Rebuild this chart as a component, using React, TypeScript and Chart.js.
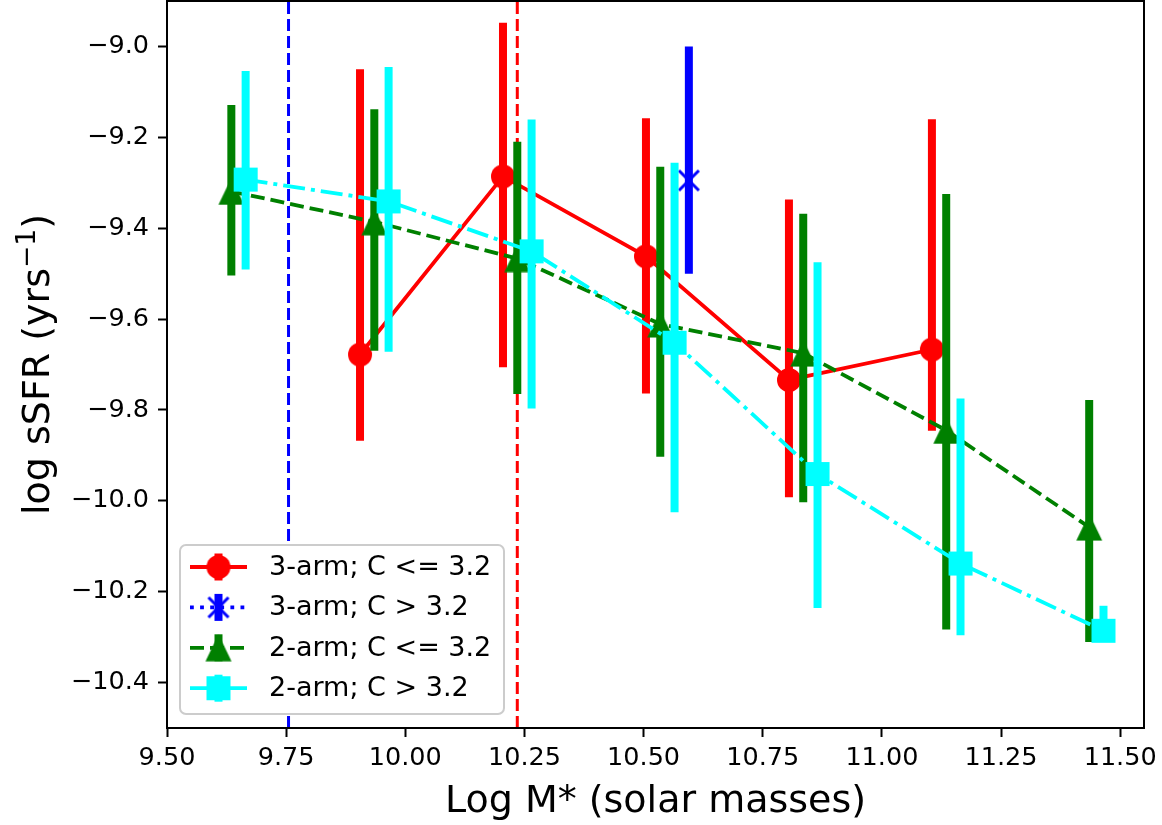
import React, { useEffect, useRef } from 'react';
import { Chart, registerables } from 'chart.js';

Chart.register(...registerables);

// ---------- data ----------
const xTicks = [9.5, 9.75, 10.0, 10.25, 10.5, 10.75, 11.0, 11.25, 11.5];
const yTicks = [-10.4, -10.2, -10.0, -9.8, -9.6, -9.4, -9.2, -9.0];
const xLimits = [9.5, 11.55];
const yLimits = [-10.5, -8.9];

const seriesLabels = ['3-arm; C <= 3.2', '3-arm; C > 3.2', '2-arm; C <= 3.2', '2-arm; C > 3.2'];
const xTitle = 'Log M* (solar masses)';
const yTitleMain = 'log sSFR (yrs';
const yTitleSup = '\u22121';
const yTitleEnd = ')';

const threeArmLowX = [9.905, 10.205, 10.505, 10.805, 11.105];
const threeArmLowY = [-9.678, -9.286, -9.462, -9.734, -9.667];
const threeArmLowLo = [-9.868, -9.706, -9.764, -9.992, -9.846];
const threeArmLowHi = [-9.05, -8.948, -9.158, -9.337, -9.16];

const threeArmHighX = [10.595];
const threeArmHighY = [-9.295];
const threeArmHighLo = [-9.5];
const threeArmHighHi = [-9.0];

const twoArmLowX = [9.635, 9.935, 10.235, 10.535, 10.835, 11.135, 11.435];
const twoArmLowY = [-9.319, -9.386, -9.467, -9.611, -9.675, -9.845, -10.058];
const twoArmLowLo = [-9.504, -9.67, -9.765, -9.903, -10.003, -10.283, -10.311];
const twoArmLowHi = [-9.129, -9.138, -9.21, -9.265, -9.368, -9.325, -9.778];

const twoArmHighX = [9.665, 9.965, 10.265, 10.565, 10.865, 11.165, 11.465];
const twoArmHighY = [-9.293, -9.341, -9.451, -9.652, -9.941, -10.138, -10.286];
const twoArmHighLo = [-9.491, -9.672, -9.797, -10.025, -10.236, -10.296, -10.3];
const twoArmHighHi = [-9.054, -9.045, -9.161, -9.256, -9.475, -9.775, -10.231];

const massCutLines = [9.755, 10.235];
const massCutColors = ['#0000ff', '#ff0000'];

const FONT = '"DejaVu Sans", "Liberation Sans", sans-serif';

function makeMarker(kind: string, color: string): HTMLCanvasElement {
  const c = document.createElement('canvas');
  const size = kind === 'triangle' ? 28 : 26;
  c.width = size;
  c.height = size;
  const g = c.getContext('2d')!;
  g.fillStyle = color;
  g.strokeStyle = color;
  if (kind === 'circle') {
    g.beginPath();
    g.arc(13, 13, 12, 0, Math.PI * 2);
    g.fill();
  } else if (kind === 'square') {
    g.fillRect(1, 1, 24, 24);
  } else if (kind === 'triangle') {
    g.beginPath();
    g.moveTo(14, 0.5);
    g.lineTo(1, 27.5);
    g.lineTo(27, 27.5);
    g.closePath();
    g.fill();
  } else if (kind === 'x') {
    g.lineWidth = 3;
    g.beginPath();
    g.moveTo(3, 3);
    g.lineTo(23, 23);
    g.moveTo(23, 3);
    g.lineTo(3, 23);
    g.stroke();
  }
  return c;
}

const zip = (xs: number[], ys: number[]) => xs.map((x, i) => ({ x, y: ys[i] }));

export default function App() {
  const canvasRef = useRef<HTMLCanvasElement | null>(null);

  useEffect(() => {
    if (!canvasRef.current) return;
    const markers = {
      red: makeMarker('circle', '#ff0000'),
      blue: makeMarker('x', '#0000ff'),
      green: makeMarker('triangle', '#008000'),
      cyan: makeMarker('square', '#00ffff'),
    };

    const series = [
      { label: seriesLabels[0], x: threeArmLowX, y: threeArmLowY, lo: threeArmLowLo, hi: threeArmLowHi, color: '#ff0000', dash: [] as number[], marker: markers.red, order: 4 },
      { label: seriesLabels[1], x: threeArmHighX, y: threeArmHighY, lo: threeArmHighLo, hi: threeArmHighHi, color: '#0000ff', dash: [3.8, 6.3], marker: markers.blue, order: 3 },
      { label: seriesLabels[2], x: twoArmLowX, y: twoArmLowY, lo: twoArmLowLo, hi: twoArmLowHi, color: '#008000', dash: [14, 6], marker: markers.green, order: 2 },
      { label: seriesLabels[3], x: twoArmHighX, y: twoArmHighY, lo: twoArmHighLo, hi: twoArmHighHi, color: '#00ffff', dash: [22, 6, 4, 6], marker: markers.cyan, order: 1 },
    ];

    const datasets: any[] = [];
    massCutLines.forEach((v, i) => {
      datasets.push({
        type: 'line',
        data: [{ x: v, y: yLimits[0] }, { x: v, y: yLimits[1] }],
        borderColor: massCutColors[i],
        borderWidth: 3,
        borderDash: [12, 5],
        pointRadius: 0,
        order: 10,
      });
    });
    series.forEach((s) => {
      datasets.push({
        type: 'line',
        label: s.label,
        data: zip(s.x, s.y),
        borderColor: s.color,
        backgroundColor: s.color,
        borderWidth: 3.8,
        borderDash: s.dash,
        pointStyle: s.marker,
        pointRadius: 13,
        pointHoverRadius: 13,
        showLine: s.x.length > 1,
        order: s.order,
        errLo: s.lo,
        errHi: s.hi,
        errColor: s.color,
      });
    });

    const errorBarPlugin = {
      id: 'errorBars',
      beforeDatasetDraw(chart: any, args: any) {
        const ds = chart.data.datasets[args.index];
        if (!ds.errLo) return;
        const { ctx, chartArea } = chart;
        const xs = chart.scales.x;
        const ys = chart.scales.y;
        ctx.save();
        ctx.beginPath();
        ctx.rect(chartArea.left, chartArea.top, chartArea.right - chartArea.left, chartArea.bottom - chartArea.top);
        ctx.clip();
        ctx.strokeStyle = ds.errColor;
        ctx.lineWidth = 8;
        ctx.lineCap = 'butt';
        ds.data.forEach((p: any, i: number) => {
          const px = xs.getPixelForValue(p.x);
          ctx.beginPath();
          ctx.moveTo(px, ys.getPixelForValue(ds.errLo[i]));
          ctx.lineTo(px, ys.getPixelForValue(ds.errHi[i]));
          ctx.stroke();
        });
        ctx.restore();
      },
    };

    const framePlugin = {
      id: 'frameAndLegend',
      afterDraw(chart: any) {
        const { ctx, chartArea } = chart;
        ctx.save();
        // y-axis title with superscript
        const mainFont = `38px ${FONT}`;
        const supFont = `26.6px ${FONT}`;
        ctx.font = mainFont;
        const w1 = ctx.measureText(yTitleMain).width;
        const w3 = ctx.measureText(yTitleEnd).width;
        ctx.font = supFont;
        const w2 = ctx.measureText(yTitleSup).width;
        const total = w1 + w2 + w3;
        const cyMid = (chartArea.top + chartArea.bottom) / 2;
        ctx.translate(49, cyMid);
        ctx.rotate(-Math.PI / 2);
        ctx.fillStyle = '#000';
        ctx.textBaseline = 'alphabetic';
        ctx.textAlign = 'left';
        let px = -total / 2;
        ctx.font = mainFont;
        ctx.fillText(yTitleMain, px, 0);
        px += w1;
        ctx.font = supFont;
        ctx.fillText(yTitleSup, px, -14);
        px += w2;
        ctx.font = mainFont;
        ctx.fillText(yTitleEnd, px, 0);
        ctx.restore();
      },
      afterDatasetsDraw(chart: any) {
        const { ctx, chartArea } = chart;
        ctx.save();
        ctx.strokeStyle = '#000';
        ctx.lineWidth = 2;
        ctx.strokeRect(chartArea.left, chartArea.top, chartArea.right - chartArea.left, chartArea.bottom - chartArea.top);

        // legend
        const bx = chartArea.left + 13;
        const bw = 324;
        const bh = 169;
        const by = chartArea.bottom - 14 - bh;
        const r = 6;
        ctx.beginPath();
        ctx.moveTo(bx + r, by);
        ctx.lineTo(bx + bw - r, by);
        ctx.arcTo(bx + bw, by, bx + bw, by + r, r);
        ctx.lineTo(bx + bw, by + bh - r);
        ctx.arcTo(bx + bw, by + bh, bx + bw - r, by + bh, r);
        ctx.lineTo(bx + r, by + bh);
        ctx.arcTo(bx, by + bh, bx, by + bh - r, r);
        ctx.lineTo(bx, by + r);
        ctx.arcTo(bx, by, bx + r, by, r);
        ctx.closePath();
        ctx.fillStyle = '#ffffff';
        ctx.fill();
        ctx.strokeStyle = '#cccccc';
        ctx.lineWidth = 2;
        ctx.stroke();

        series.forEach((s, i) => {
          const cy = by + 22 + i * 40.4;
          const x0 = bx + 10;
          const x1 = bx + 67;
          const mx = bx + 38.5;
          ctx.save();
          ctx.strokeStyle = s.color;
          ctx.lineWidth = 3.8;
          ctx.setLineDash(s.dash);
          ctx.beginPath();
          ctx.moveTo(x0, cy);
          ctx.lineTo(x1, cy);
          ctx.stroke();
          ctx.setLineDash([]);
          ctx.lineWidth = 8;
          ctx.beginPath();
          ctx.moveTo(mx, cy - 13.5);
          ctx.lineTo(mx, cy + 13.5);
          ctx.stroke();
          ctx.drawImage(s.marker, mx - s.marker.width / 2, cy - s.marker.height / 2);
          ctx.restore();
          ctx.fillStyle = '#000';
          ctx.font = `27px ${FONT}`;
          ctx.textAlign = 'left';
          ctx.textBaseline = 'middle';
          ctx.fillText(s.label, bx + 89, cy + 1);
        });
        ctx.restore();
      },
    };

    const fmtMinus = (s: string) => s.replace('-', '\u2212');

    const chart = new Chart(canvasRef.current, {
      type: 'line',
      data: { datasets },
      plugins: [errorBarPlugin, framePlugin],
      options: {
        responsive: false,
        animation: false,
        events: [],
        layout: { autoPadding: false, padding: { top: 1, right: 18, left: 0, bottom: 0 } },
        plugins: { legend: { display: false }, tooltip: { enabled: false } },
        scales: {
          x: {
            type: 'linear',
            min: xLimits[0],
            max: xLimits[1],
            afterBuildTicks: (s: any) => {
              s.ticks = xTicks.map((v) => ({ value: v }));
            },
            afterFit: (s: any) => {
              s.height = 97;
              s.paddingLeft = 0;
              s.paddingRight = 0;
              s.paddingTop = 0;
              s.paddingBottom = 0;
            },
            ticks: {
              callback: (v: any) => Number(v).toFixed(2),
              font: { family: FONT, size: 25.5 },
              color: '#000',
              padding: 6,
              maxRotation: 0,
              autoSkip: false,
            },
            grid: { drawOnChartArea: false, drawTicks: true, tickLength: 9, tickWidth: 2, tickColor: '#000' },
            border: { display: true, color: '#000', width: 2 },
            title: {
              display: true,
              text: xTitle,
              font: { family: FONT, size: 38 },
              color: '#000',
              padding: { top: 0, bottom: 0 },
            },
          },
          y: {
            type: 'linear',
            min: yLimits[0],
            max: yLimits[1],
            afterBuildTicks: (s: any) => {
              s.ticks = yTicks.map((v) => ({ value: v }));
            },
            afterFit: (s: any) => {
              s.width = 167;
              s.paddingLeft = 0;
              s.paddingRight = 0;
              s.paddingTop = 0;
              s.paddingBottom = 0;
            },
            ticks: {
              callback: (v: any) => fmtMinus(Number(v).toFixed(1)),
              font: { family: FONT, size: 25.5 },
              color: '#000',
              padding: 9,
              autoSkip: false,
            },
            grid: { drawOnChartArea: false, drawTicks: true, tickLength: 9, tickWidth: 2, tickColor: '#000' },
            border: { display: true, color: '#000', width: 2 },
            title: { display: false },
          },
        },
      } as any,
    });
    return () => chart.destroy();
  }, []);

  return (
    <div style={{ position: 'fixed', left: 0, top: 0, width: 1162, height: 825, background: '#fff' }}>
      <canvas ref={canvasRef} width={1162} height={825} style={{ display: 'block' }} />
    </div>
  );
}
